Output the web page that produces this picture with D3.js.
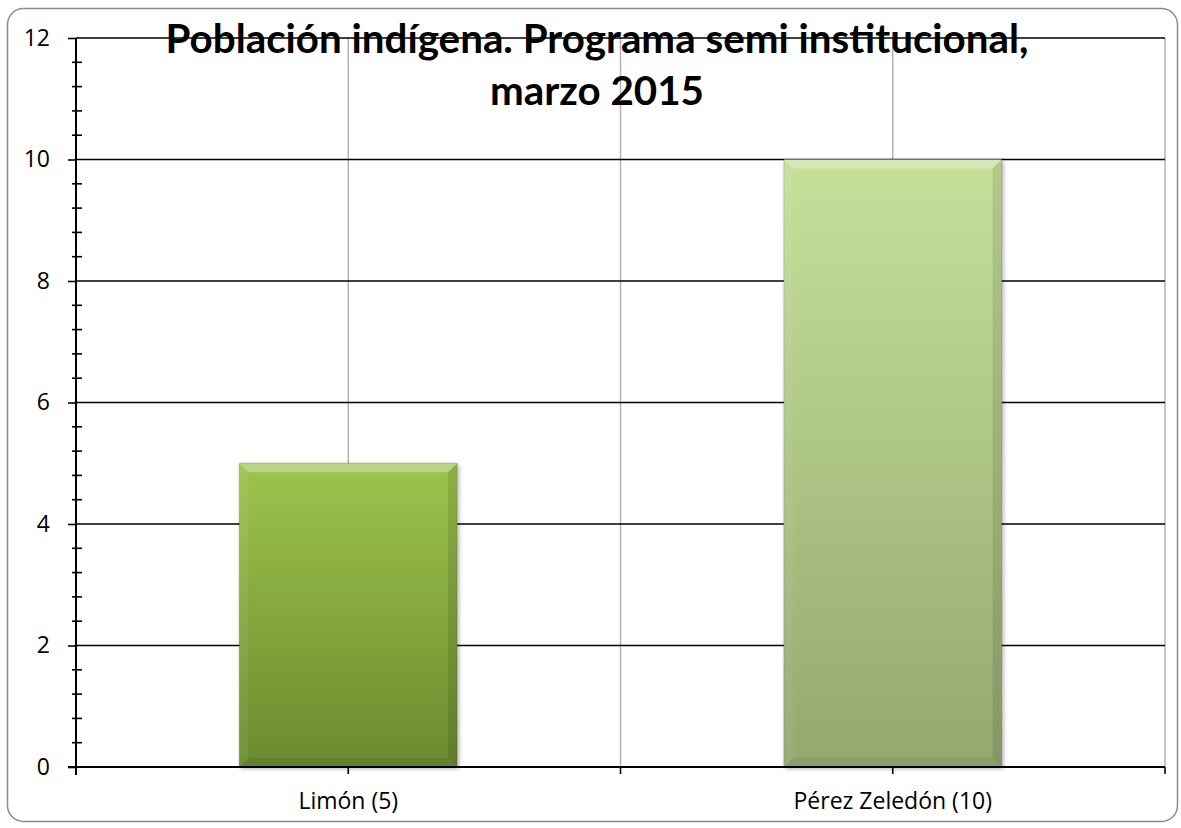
<!DOCTYPE html>
<html><head><meta charset="utf-8">
<script src="https://cdn.jsdelivr.net/npm/d3@7"></script>
<style>body{margin:0;background:#fff}svg{display:block}</style>
</head><body><svg id="c" width="1181" height="828"></svg>
<script>
const categories = ["Limón (5)", "Pérez Zeledón (10)"];
const values = [5, 10];
const yTicks = [0, 2, 4, 6, 8, 10, 12];
const titleLines = ["Población indígena. Programa semi institucional,", "marzo 2015"];
const barColors = [["#9cc44c", "#6b8a2f"], ["#c6e09a", "#93a86f"]];

const svg = d3.select("#c");
const m = {l: 76, r: 1165, t: 38, b: 767};
const font = "'Open Sans', sans-serif";
const tfont = "Lato, 'Open Sans', sans-serif";

svg.append("rect").attr("x", 7.5).attr("y", 8.5).attr("width", 1170).attr("height", 813)
  .attr("rx", 16).attr("fill", "#fff").attr("stroke", "#8c8c8c").attr("stroke-width", 1.5);

const x = d3.scaleBand().domain(categories).range([m.l, m.r]).padding(0);
const y = d3.scaleLinear().domain([0, 12]).range([m.b, m.t]);

const defs = svg.append("defs");
barColors.forEach((c, i) => {
  const g = defs.append("linearGradient").attr("id", "g" + i).attr("x1", 0).attr("y1", 0).attr("x2", 0).attr("y2", 1);
  g.append("stop").attr("offset", 0).attr("stop-color", c[0]);
  g.append("stop").attr("offset", 1).attr("stop-color", c[1]);
});
const f = defs.append("filter").attr("id", "sh").attr("x", -0.1).attr("y", -0.1).attr("width", 1.2).attr("height", 1.2);
f.append("feDropShadow").attr("dx", 1.5).attr("dy", 1.5).attr("stdDeviation", 2).attr("flood-opacity", 0.35);

const vlines = [];
categories.forEach(c => { vlines.push(x(c) + x.bandwidth() / 2); vlines.push(x(c) + x.bandwidth()); });
svg.append("g").selectAll("line").data(vlines).join("line")
  .attr("x1", d => d).attr("x2", d => d).attr("y1", m.t).attr("y2", m.b)
  .attr("stroke", "#b3b3b3").attr("stroke-width", 1.5);

svg.append("g").selectAll("line").data(yTicks.filter(d => d > 0)).join("line")
  .attr("x1", m.l).attr("x2", m.r).attr("y1", d => y(d)).attr("y2", d => y(d))
  .attr("stroke", "#000").attr("stroke-width", 1.6);

const bw = x.bandwidth() * 0.4;
const bars = svg.append("g").selectAll("g").data(categories).join("g");
bars.each(function(c, i) {
  const g = d3.select(this);
  const x0 = x(c) + (x.bandwidth() - bw) / 2, x1 = x0 + bw, y0 = y(values[i]), y1 = y(0);
  g.append("rect").attr("x", x0).attr("y", y0).attr("width", bw).attr("height", y1 - y0)
    .attr("fill", `url(#g${i})`).attr("filter", "url(#sh)");
  const e = 9;
  g.append("polygon").attr("points", [[x0, y0], [x1, y0], [x1 - e, y0 + e], [x0 + e, y0 + e]].join(" "))
    .attr("fill", "#fff").attr("opacity", 0.3);
  g.append("polygon").attr("points", [[x0, y0], [x0 + e, y0 + e], [x0 + e, y1 - e], [x0, y1]].join(" "))
    .attr("fill", "#fff").attr("opacity", 0.06);
  g.append("polygon").attr("points", [[x1, y0], [x1, y1], [x1 - e, y1 - e], [x1 - e, y0 + e]].join(" "))
    .attr("fill", "#000").attr("opacity", 0.1);
  g.append("polygon").attr("points", [[x0, y1], [x1, y1], [x1 - e, y1 - e], [x0 + e, y1 - e]].join(" "))
    .attr("fill", "#000").attr("opacity", 0.06);
  g.append("rect").attr("x", x0).attr("y", y0).attr("width", bw).attr("height", y1 - y0)
    .attr("fill", "none").attr("stroke", "#000").attr("stroke-opacity", 0.15).attr("stroke-width", 1);
});

const yAxis = svg.append("g").attr("transform", `translate(${m.l},0)`)
  .call(d3.axisLeft(y).tickValues(yTicks).tickSize(8).tickPadding(18).tickFormat(d3.format("d")));
yAxis.select(".domain").remove();
yAxis.selectAll(".tick line").attr("stroke", "#000").attr("stroke-width", 1.6);
yAxis.selectAll("text").attr("font-family", font).attr("font-size", 23).attr("fill", "#000");
const minor = d3.range(0, 12.001, 0.4).filter(v => Math.abs(v / 2 - Math.round(v / 2)) > 0.01);
svg.append("g").selectAll("line").data(minor).join("line")
  .attr("x1", m.l - 4).attr("x2", m.l + 6).attr("y1", d => y(d)).attr("y2", d => y(d))
  .attr("stroke", "#000").attr("stroke-width", 1.6);
svg.append("line").attr("x1", m.l).attr("x2", m.l).attr("y1", m.t).attr("y2", m.b + 8)
  .attr("stroke", "#000").attr("stroke-width", 2);

svg.append("line").attr("x1", m.l - 8).attr("x2", m.r).attr("y1", m.b).attr("y2", m.b)
  .attr("stroke", "#000").attr("stroke-width", 2);
const xt = [m.l, ...vlines];
svg.append("g").selectAll("line").data(xt).join("line")
  .attr("x1", d => d).attr("x2", d => d).attr("y1", m.b).attr("y2", m.b + 7)
  .attr("stroke", "#000").attr("stroke-width", 1.6);
svg.append("g").selectAll("text").data(categories).join("text")
  .attr("x", d => x(d) + x.bandwidth() / 2).attr("y", 809).attr("text-anchor", "middle")
  .attr("font-family", font).attr("font-size", 23).attr("fill", "#000").text(d => d);

const t = svg.append("g");
const l1 = t.append("text").attr("x", 597).attr("y", 53).attr("text-anchor", "middle")
  .attr("font-family", tfont).attr("font-weight", "bold").attr("font-size", 34).text(titleLines[0]);
const w = l1.node().getComputedTextLength();
const fs = 34 * 863 / w;
l1.attr("font-size", fs);
t.append("text").attr("x", 597).attr("y", 105).attr("text-anchor", "middle")
  .attr("font-family", tfont).attr("font-weight", "bold").attr("font-size", fs).text(titleLines[1]);
</script></body></html>
